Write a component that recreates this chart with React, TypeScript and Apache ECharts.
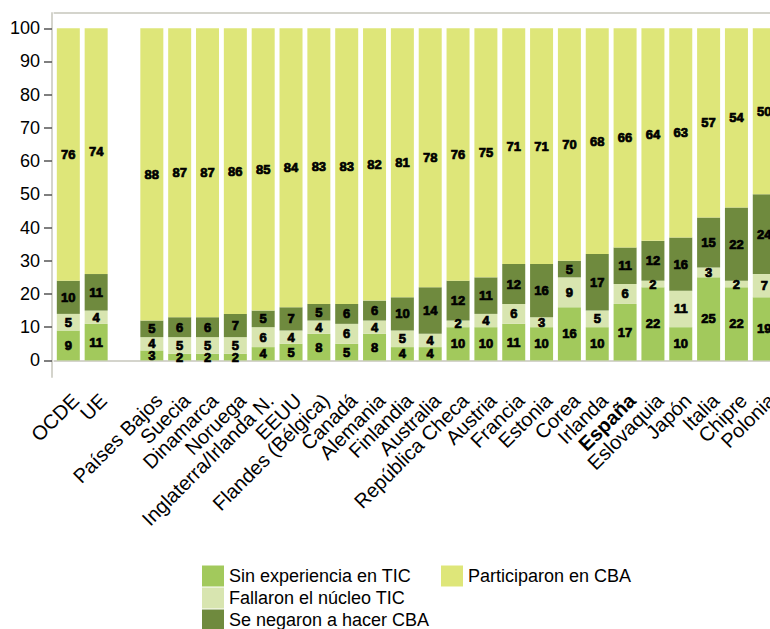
import React, { useEffect, useRef } from "react";
import * as echarts from "echarts";

const categories = [
  "OCDE", "UE", "", "Países Bajos", "Suecia", "Dinamarca", "Noruega",
  "Inglaterra/Irlanda N.", "EEUU", "Flandes (Bélgica)", "Canadá", "Alemania",
  "Finlandia", "Australia", "República Checa", "Austria", "Francia", "Estonia",
  "Corea", "Irlanda", "España", "Eslovaquia", "Japón", "Italia", "Chipre", "Polonia",
];
const sinExperiencia = [9, 11, null, 3, 2, 2, 2, 4, 5, 8, 5, 8, 4, 4, 10, 10, 11, 10, 16, 10, 17, 22, 10, 25, 22, 19];
const fallaron = [5, 4, null, 4, 5, 5, 5, 6, 4, 4, 6, 4, 5, 4, 2, 4, 6, 3, 9, 5, 6, 2, 11, 3, 2, 7];
const negaron = [10, 11, null, 5, 6, 6, 7, 5, 7, 5, 6, 6, 10, 14, 12, 11, 12, 16, 5, 17, 11, 12, 16, 15, 22, 24];
const participaron = [76, 74, null, 88, 87, 87, 86, 85, 84, 83, 83, 82, 81, 78, 76, 75, 71, 71, 70, 68, 66, 64, 63, 57, 54, 50];
const yTicks = [0, 10, 20, 30, 40, 50, 60, 70, 80, 90, 100];
const seriesNames = ["Sin experiencia en TIC", "Fallaron el núcleo TIC", "Se negaron a hacer CBA", "Participaron en CBA"];
const highlighted = "España";

const FONT = "'Liberation Sans', Arial, sans-serif";

export default function App() {
  const ref = useRef<HTMLDivElement>(null);
  useEffect(() => {
    if (!ref.current) return;
    const chart = echarts.init(ref.current, null, { renderer: "svg" });
    const colors = ["#a2c95c", "#d8e5b0", "#6f8a3e", "#dee679"];
    const datasets = [sinExperiencia, fallaron, negaron, participaron];
    const catData = categories.map((c) =>
      c === highlighted
        ? {
            value: c,
            textStyle: {
              fontWeight: "bold",
              fontSize: 20,
              verticalAlign: "top",
              color: "#000",
              fontFamily: FONT,
            },
          }
        : c
    );
    const legendPos = [
      { left: 202, top: 563 },
      { left: 202, top: 585 },
      { left: 202, top: 607 },
      { left: 441, top: 563 },
    ];
    const legends = seriesNames.map((name, i) => ({
      data: [name],
      ...legendPos[i],
      orient: "horizontal",
      itemWidth: 22,
      itemHeight: 21,
      itemGap: 0,
      icon: "rect",
      padding: 0,
      textStyle: { fontSize: 18, lineHeight: 22, color: "#000", fontFamily: FONT, padding: [4, 0, 0, 0] },
      selectedMode: false,
    }));
    chart.setOption({
      animation: false,
      textStyle: { fontFamily: FONT },
      grid: { left: 54.4, top: 13, width: 723.8, height: 364, containLabel: false, outerBoundsMode: "none" },
      legend: legends,
      xAxis: [
        {
          type: "category",
          data: catData,
          position: "bottom",
          axisLine: { lineStyle: { color: "#d4d4cc", width: 2 } },
          axisTick: {
            alignWithLabel: true,
            length: 8,
            interval: (idx: number) => categories[idx] !== "",
            lineStyle: { color: "#333", width: 1.5 },
          },
          axisLabel: {
            interval: 0,
            rotate: 45,
            margin: 13,
            fontSize: 20,
            verticalAlign: "top",
            color: "#000",
            fontFamily: FONT,
          },
        },
        {
          type: "category",
          data: categories,
          position: "top",
          axisLine: { lineStyle: { color: "#d4d4cc", width: 2 } },
          axisTick: { alignWithLabel: true, inside: true, length: 2, lineStyle: { color: "#d4d4cc" } },
          axisLabel: { show: false },
        },
      ],
      yAxis: {
        type: "value",
        min: -5,
        max: 104.6,
        offset: 2.4,
        splitLine: { show: false },
        axisLine: { show: true, lineStyle: { color: "#d4d4cc", width: 2 } },
        axisTick: { show: true, length: 8, customValues: yTicks, lineStyle: { color: "#555", width: 1.5 } },
        axisLabel: { customValues: yTicks, fontSize: 18, margin: 12, color: "#000", fontFamily: FONT },
      },
      series: seriesNames.map((name, i) => ({
        name,
        type: "bar",
        stack: "total",
        barWidth: 23,
        xAxisIndex: 0,
        data: datasets[i],
        itemStyle: { color: colors[i] },
        label: {
          show: true,
          position: "inside",
          color: "#000",
          fontSize: 13,
          fontWeight: "bold",
          fontFamily: FONT,
          textBorderColor: "#000",
          textBorderWidth: 0.7,
        },
      })),
    });
    return () => chart.dispose();
  }, []);
  return (
    <div
      ref={ref}
      style={{ position: "fixed", left: 0, top: 0, width: 770, height: 629, background: "#fff" }}
    />
  );
}
